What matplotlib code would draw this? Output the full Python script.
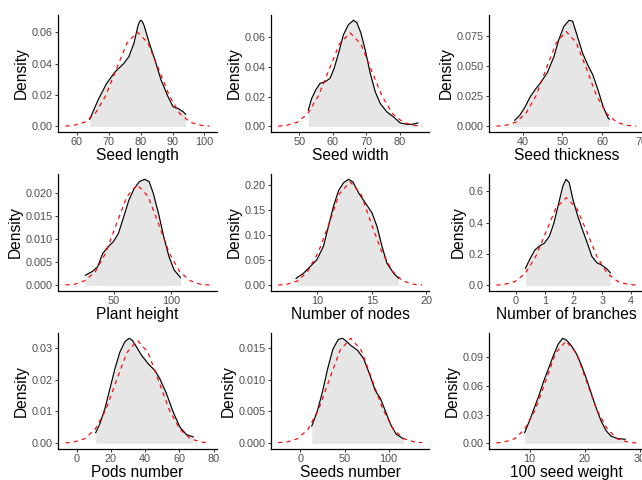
import numpy as np
import matplotlib
matplotlib.use("Agg")
import matplotlib.pyplot as plt
from matplotlib.ticker import FixedLocator, FixedFormatter

plt.rcParams['font.family'] = ['Liberation Sans', 'DejaVu Sans']
plt.rcParams['lines.scale_dashes'] = False

# ---- kernel density curves (black) ----
seed_length_x = [64.0, 66.6, 69.3, 72.0, 74.7, 76.3, 77.9, 79.1, 79.6, 80.0, 80.5, 81.1, 82.7, 84.3, 86.4, 88.6, 90.2, 91.8, 93.4, 94.1]
seed_length_y = [0.0045, 0.0167, 0.0273, 0.0348, 0.0400, 0.0444, 0.0530, 0.0636, 0.0665, 0.0675, 0.0668, 0.0640, 0.0530, 0.0433, 0.0295, 0.0188, 0.0124, 0.0113, 0.0092, 0.0077]
seed_width_x = [52.7, 53.7, 55.0, 56.2, 57.7, 59.2, 60.4, 61.7, 63.2, 64.7, 66.2, 67.2, 68.4, 69.7, 71.2, 72.7, 74.2, 76.2, 78.2, 80.2, 82.2, 83.7, 85.4]
seed_width_y = [0.0110, 0.0188, 0.0249, 0.0290, 0.0300, 0.0324, 0.0390, 0.0490, 0.0618, 0.0686, 0.0715, 0.0700, 0.0630, 0.0516, 0.0358, 0.0233, 0.0154, 0.0097, 0.0063, 0.0023, 0.0014, 0.0014, 0.0023]
seed_thick_x = [38.0, 39.3, 40.6, 41.9, 43.2, 44.4, 46.2, 47.9, 49.1, 50.4, 51.7, 52.6, 53.8, 55.1, 56.4, 57.7, 59.0, 60.3, 61.5, 61.8]
seed_thick_y = [0.0050, 0.0092, 0.0160, 0.0244, 0.0306, 0.0356, 0.0444, 0.0578, 0.0717, 0.0828, 0.0878, 0.0870, 0.0744, 0.0606, 0.0508, 0.0425, 0.0300, 0.0161, 0.0072, 0.0060]
plant_height_x = [25.2, 31.2, 35.8, 40.3, 44.8, 49.4, 53.9, 58.5, 63.0, 67.6, 72.1, 76.7, 80.6, 84.2, 88.8, 93.3, 97.9, 102.4, 107.9]
plant_height_y = [0.0022, 0.0030, 0.0040, 0.0069, 0.0083, 0.0094, 0.0112, 0.0148, 0.0184, 0.0209, 0.0224, 0.0229, 0.0224, 0.0199, 0.0155, 0.0105, 0.0062, 0.0033, 0.0017]
nodes_x = [8.04, 8.71, 9.33, 9.94, 10.55, 11.01, 11.47, 11.93, 12.39, 12.85, 13.25, 13.77, 14.39, 15.0, 15.46, 15.92, 16.38, 17.0, 17.45]
nodes_y = [0.014, 0.024, 0.0376, 0.051, 0.078, 0.118, 0.158, 0.189, 0.205, 0.212, 0.207, 0.185, 0.165, 0.145, 0.118, 0.078, 0.044, 0.024, 0.014]
branches_x = [0.33, 0.50, 0.66, 0.83, 0.99, 1.16, 1.32, 1.49, 1.63, 1.74, 1.85, 1.98, 2.15, 2.31, 2.48, 2.64, 2.81, 2.97, 3.14, 3.28]
branches_y = [0.109, 0.173, 0.226, 0.252, 0.269, 0.312, 0.397, 0.526, 0.632, 0.675, 0.654, 0.547, 0.440, 0.355, 0.269, 0.184, 0.145, 0.130, 0.109, 0.081]
pods_x = [11.1, 13.6, 16.5, 19.4, 22.3, 25.2, 28.2, 30.7, 32.6, 35.0, 37.9, 41.7, 45.6, 48.5, 52.4, 56.3, 60.2, 64.1, 68.0]
pods_y = [0.0033, 0.0062, 0.0109, 0.0171, 0.0234, 0.0286, 0.0320, 0.0330, 0.0323, 0.0302, 0.0276, 0.0250, 0.0229, 0.0203, 0.0156, 0.0098, 0.0051, 0.0027, 0.0020]
seeds_x = [12.8, 18.8, 24.8, 30.8, 36.8, 42.8, 47.6, 51.6, 56.8, 64.8, 71.6, 78.8, 84.8, 90.8, 96.8, 102.8, 108.8, 116.8]
seeds_y = [0.0027, 0.0049, 0.0080, 0.0117, 0.0148, 0.0163, 0.0165, 0.0161, 0.0154, 0.0146, 0.0133, 0.0107, 0.0083, 0.0070, 0.0049, 0.0028, 0.0014, 0.0007]
weight_x = [9.1, 9.9, 10.8, 11.7, 12.5, 13.4, 14.3, 15.2, 16.0, 16.7, 17.6, 18.5, 19.3, 20.2, 21.1, 22.0, 22.9, 23.8, 24.7, 25.9, 27.3]
weight_y = [0.011, 0.0222, 0.0361, 0.050, 0.064, 0.0778, 0.0917, 0.104, 0.110, 0.108, 0.102, 0.0935, 0.083, 0.0691, 0.0535, 0.0379, 0.024, 0.0136, 0.0076, 0.0049, 0.0042]

# ---- normal reference curves (red dashed) ----
seed_length_nx = [56.4, 59.05, 62.4, 65.7, 69.0, 72.35, 75.7, 79.0, 82.3, 85.65, 89.0, 92.3, 95.6, 98.95, 101.6]
seed_length_ny = [0.0002, 0.0007, 0.0026, 0.0081, 0.0195, 0.0364, 0.0530, 0.0600, 0.0530, 0.0364, 0.0195, 0.0081, 0.0026, 0.0007, 0.0002]
seed_width_nx = [43.7, 46.2, 49.4, 52.5, 55.7, 58.9, 62.0, 65.2, 68.4, 71.5, 74.7, 77.9, 81.0, 84.2, 86.7]
seed_width_ny = [0.0002, 0.0007, 0.0028, 0.0085, 0.0205, 0.0382, 0.0556, 0.0630, 0.0556, 0.0382, 0.0205, 0.0085, 0.0028, 0.0007, 0.0002]
seed_thick_nx = [33.4, 35.8, 38.3, 40.8, 43.4, 45.9, 48.5, 51.0, 53.5, 56.1, 58.6, 61.2, 63.7, 66.2, 68.6]
seed_thick_ny = [0.0002, 0.0009, 0.0034, 0.0106, 0.0255, 0.0476, 0.0693, 0.0785, 0.0693, 0.0476, 0.0255, 0.0106, 0.0034, 0.0009, 0.0002]
plant_height_nx = [7.9, 15.3, 24.5, 33.7, 42.9, 52.1, 61.3, 70.5, 79.7, 88.9, 98.1, 107.3, 116.5, 125.7, 133.1]
plant_height_ny = [0.0001, 0.0002, 0.0010, 0.0029, 0.0070, 0.0132, 0.0192, 0.0217, 0.0192, 0.0132, 0.0070, 0.0029, 0.0010, 0.0002, 0.0001]
nodes_nx = [6.4, 7.2, 8.2, 9.1, 10.1, 11.1, 12.0, 13.0, 14.0, 14.9, 15.9, 16.9, 17.8, 18.8, 19.6]
nodes_ny = [0.0006, 0.0023, 0.0091, 0.0280, 0.0672, 0.1255, 0.1827, 0.2070, 0.1827, 0.1255, 0.0672, 0.0280, 0.0091, 0.0023, 0.0006]
branches_nx = [-0.68, -0.40, -0.04, 0.32, 0.68, 1.04, 1.39, 1.75, 2.11, 2.47, 2.82, 3.18, 3.54, 3.90, 4.18]
branches_ny = [0.0017, 0.0062, 0.0245, 0.0755, 0.1812, 0.3384, 0.4924, 0.558, 0.4924, 0.3384, 0.1812, 0.0755, 0.0245, 0.0062, 0.0017]
pods_nx = [-6.5, -1.55, 4.6, 10.8, 17.0, 23.15, 29.3, 35.5, 41.7, 47.85, 54.0, 60.2, 66.4, 72.55, 77.5]
pods_ny = [0.0001, 0.0004, 0.0014, 0.0044, 0.0105, 0.0196, 0.0285, 0.0323, 0.0285, 0.0196, 0.0105, 0.0044, 0.0014, 0.0004, 0.0001]
seeds_nx = [-25.3, -15.6, -3.5, 8.6, 20.7, 32.8, 44.9, 57.0, 69.1, 81.2, 93.3, 105.4, 117.5, 129.6, 138.0]
seeds_ny = [0.0001, 0.0002, 0.0007, 0.0022, 0.0054, 0.0100, 0.0146, 0.0165, 0.0146, 0.0100, 0.0054, 0.0022, 0.0007, 0.0002, 0.0001]
weight_nx = [4.0, 5.4, 7.3, 9.1, 11.0, 12.9, 14.7, 16.6, 18.5, 20.3, 22.2, 24.1, 25.9, 27.8, 29.3]
weight_ny = [0.0003, 0.0012, 0.0047, 0.0145, 0.0347, 0.0649, 0.0944, 0.107, 0.0944, 0.0649, 0.0347, 0.0145, 0.0047, 0.0012, 0.0003]

titles = ["Seed length", "Seed width", "Seed thickness",
          "Plant height", "Number of nodes", "Number of branches",
          "Pods number", "Seeds number", "100 seed weight"]
xticks = [[60, 70, 80, 90, 100], [50, 60, 70, 80], [40, 50, 60, 70],
          [50, 100], [10, 15, 20], [0, 1, 2, 3, 4],
          [0, 20, 40, 60, 80], [0, 50, 100], [10, 20, 30]]
yticks = [[0, 0.02, 0.04, 0.06], [0, 0.02, 0.04, 0.06], [0, 0.025, 0.05, 0.075],
          [0, 0.005, 0.01, 0.015, 0.02], [0, 0.05, 0.1, 0.15, 0.2], [0, 0.2, 0.4, 0.6],
          [0, 0.01, 0.02, 0.03], [0, 0.005, 0.01, 0.015], [0, 0.03, 0.06, 0.09]]
ydec = [2, 2, 3, 3, 2, 1, 2, 3, 2]

kde = [(seed_length_x, seed_length_y), (seed_width_x, seed_width_y), (seed_thick_x, seed_thick_y),
       (plant_height_x, plant_height_y), (nodes_x, nodes_y), (branches_x, branches_y),
       (pods_x, pods_y), (seeds_x, seeds_y), (weight_x, weight_y)]
norm = [(seed_length_nx, seed_length_ny), (seed_width_nx, seed_width_ny), (seed_thick_nx, seed_thick_ny),
        (plant_height_nx, plant_height_ny), (nodes_nx, nodes_ny), (branches_nx, branches_ny),
        (pods_nx, pods_ny), (seeds_nx, seeds_ny), (weight_nx, weight_ny)]

W, H = 642, 480
fig = plt.figure(figsize=(W / 100, H / 100), dpi=100)

# panel boxes in pixels: (left, right) per column, (top, bottom) per row
cols = [(58.3, 216.7), (271.0, 429.3), (489.4, 643.2)]
rows = [(15.0, 131.7), (174.0, 290.7), (333.0, 448.5)]

for i in range(9):
    r, c = divmod(i, 3)
    l, rr = cols[c]
    t, b = rows[r]
    ax = fig.add_axes([l / W, 1 - b / H, (rr - l) / W, (b - t) / H])
    kx, ky = kde[i]
    nx, ny = norm[i]
    ax.fill_between(kx, 0, ky, color="#E6E6E6", lw=0)
    ax.plot(kx, ky, color="black", lw=0.85)
    ax.plot(nx, ny, color="red", lw=0.85, dashes=(3, 3))
    ax.xaxis.set_major_locator(FixedLocator(xticks[i]))
    ax.yaxis.set_major_locator(FixedLocator(yticks[i]))
    ax.yaxis.set_major_formatter(FixedFormatter([f"{v:.{ydec[i]}f}" for v in yticks[i]]))
    for s in ["top", "right"]:
        ax.spines[s].set_visible(False)
    for s in ["left", "bottom"]:
        ax.spines[s].set_linewidth(0.9)
        ax.spines[s].set_color("black")
    ax.tick_params(length=2.5, width=0.7, color="#333333", labelcolor="#4D4D4D",
                   labelsize=7.8, pad=1.5)
    ax.set_xlabel(titles[i], fontsize=11.2, labelpad=0.5)
    ax.set_ylabel("Density", fontsize=11.2, labelpad=2)
    ax.set_facecolor("white")

fig.savefig("out.png", dpi=100)
